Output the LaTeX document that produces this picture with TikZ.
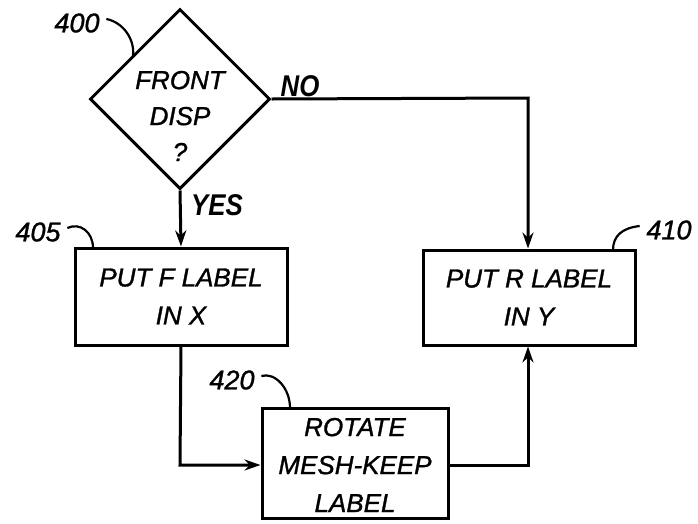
\documentclass[tikz,border=0pt]{standalone}
\usepackage{fontspec}
\setmainfont{Liberation Sans}
\newfontfamily\diagfont[FakeBold=1.2]{Liberation Sans}
\newfontfamily\ynfont[FakeStretch=0.86]{Liberation Sans}
\usetikzlibrary{shapes.geometric,arrows.meta}
\begin{document}
\begin{tikzpicture}[x=1pt,y=-1pt,
  line width=3pt,
  txt/.style={font=\diagfont\fontsize{26}{38}\selectfont\itshape, align=center},
  lbl/.style={font=\diagfont\fontsize{27}{30}\selectfont\itshape},
  yn/.style={font=\ynfont\fontsize{30}{32}\selectfont\bfseries\itshape},
  boxn/.style={draw, rectangle, inner sep=0pt},
  lead/.style={line width=2.2pt},
  arr/.style={-{Stealth[length=16pt,width=11pt]}}]
\useasboundingbox (0,0) rectangle (698,523);
% diamond
\node[diamond, draw, inner sep=0pt, minimum width=180pt, minimum height=180pt] (d) at (180,99) {};
\node[txt, font=\diagfont\fontsize{26}{36}\selectfont\itshape] (dt) at (180,116) {FRONT\\DISP\\?};
% boxes
\node[boxn, minimum width=212pt, minimum height=97pt] (b405) at (181,296.5) {};
\node[txt] (t405) at (b405) {PUT F LABEL\\IN X};
\node[boxn, minimum width=212pt, minimum height=95pt] (b410) at (529,297.5) {};
\node[txt] (t410) at (b410) {PUT R LABEL\\IN Y};
\node[boxn, minimum width=186pt, minimum height=110pt] (b420) at (355,463) {};
\node[txt] (t420) at (355,465) {ROTATE\\MESH-KEEP\\LABEL};
% connectors
\coordinate (c1) at (528,98);
\coordinate (c2) at (180,465);
\coordinate (c3) at (528,465);
\draw[arr] (d.south) -- (b405.north);
\draw[arr] (d.east) -- (c1) -- (c1 |- b410.north);
\draw[arr] (b405.south) -- (c2) -- (c2 -| b420.west);
\draw[arr] (b420.east |- c3) -- (c3) -- (c3 |- b410.south);
% yes / no
\node[yn] (yes) at (217,205) {YES};
\node[yn] (no) at (300,86) {NO};
% reference labels
\node[lbl] (n400) at (77,23) {400};
\draw[lead] (n400.east) ++(2,-4) coordinate (l400a) .. controls (122,22) and (135,38) .. (133,56);
\node[lbl] (n405) at (38,232) {405};
\draw[lead] (n405.east) ++(2,-4) coordinate (l405a) .. controls (80,222) and (93,232) .. (93,248);
\node[lbl] (n410) at (669,230) {410};
\draw[lead] (n410.west) ++(-2,-4) coordinate (l410a) .. controls (622,228) and (613,236) .. (613,250);
\node[lbl] (n420) at (232,380) {420};
\draw[lead] (n420.east) ++(2,-4) coordinate (l420a) .. controls (275,372) and (290,388) .. (290,408);
\end{tikzpicture}
\end{document}
